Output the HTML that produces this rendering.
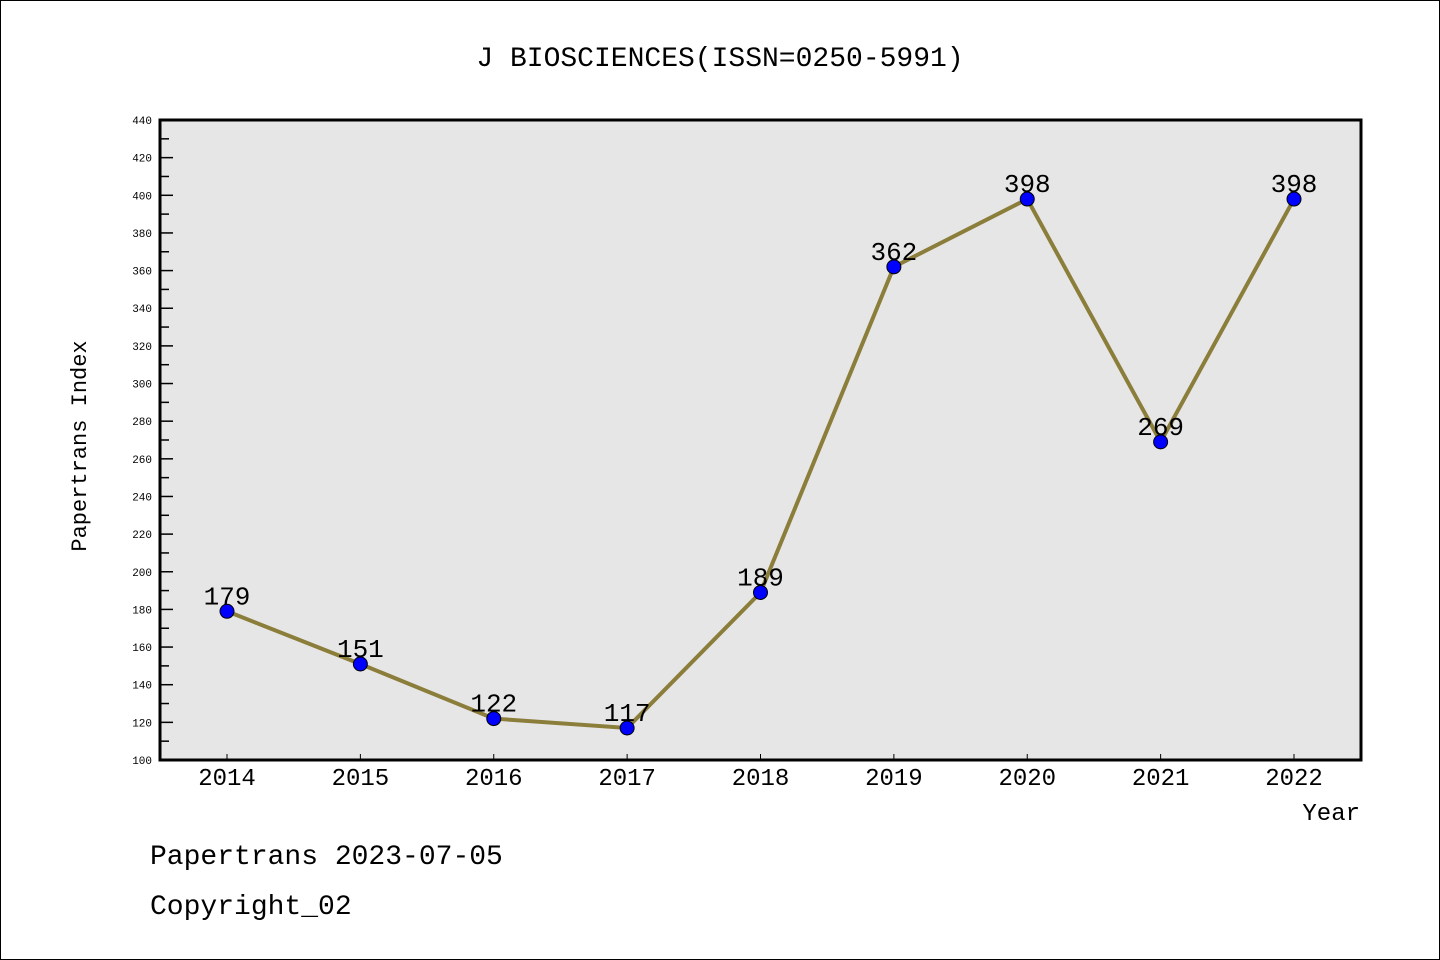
<!DOCTYPE html>
<html><head><meta charset="utf-8"><style>
body{margin:0;background:#fff}
svg{display:block;font-family:"WenQuanYi Zen Hei","Liberation Mono",monospace}
</style></head><body>
<svg width="1440" height="960" viewBox="0 0 1440 960">
<rect x="0.5" y="0.5" width="1439" height="959" fill="#fff" stroke="#000"/>
<text x="720" y="66" font-size="28" text-anchor="middle">J BIOSCIENCES(ISSN=0250-5991)</text>
<rect x="160" y="120" width="1201" height="640" fill="#e6e6e6"/>
<g id="yt"></g>
<g id="xt"></g>
<g id="series"></g>
<rect x="160" y="120" width="1201" height="640" fill="none" stroke="#000" stroke-width="3"/>
<text x="86" y="446" font-size="22" text-anchor="middle" transform="rotate(-90 86 446)">Papertrans Index</text>
<text x="1360" y="820" font-size="24" text-anchor="end">Year</text>
<text x="150" y="864" font-size="28">Papertrans 2023-07-05</text>
<text x="150" y="914" font-size="28">Copyright_02</text>
</svg>
<script>
const years=[2014,2015,2016,2017,2018,2019,2020,2021,2022];
const values=[179,151,122,117,189,362,398,269,398];
const yTicks=[100,120,140,160,180,200,220,240,260,280,300,320,340,360,380,400,420,440];
const NS="http://www.w3.org/2000/svg";
const yMin=100,yMax=440,py0=760,py1=120;
const x=i=>227+i*(1294-227)/(years.length-1);
const y=v=>py0-(v-yMin)/(yMax-yMin)*(py0-py1);
function mk(t,a,p){const e=document.createElementNS(NS,t);for(const k in a)e.setAttribute(k,a[k]);p.appendChild(e);return e;}
const yt=document.getElementById('yt'),xt=document.getElementById('xt'),s=document.getElementById('series');
yTicks.forEach((v,i)=>{
  const l=mk('line',{x1:160,x2:173,y1:y(v),y2:y(v),stroke:'#000','stroke-width':1.5},yt);
  
  
  if(i<yTicks.length-1){const m=mk('line',{x1:160,x2:169,y1:y(v+10),y2:y(v+10),stroke:'#000','stroke-width':1.5},yt);
  
  }
  const t=mk('text',{x:152,y:y(v)+4,'font-size':11,'text-anchor':'end'},yt);t.textContent=v;
  
  
});
years.forEach((yr,i)=>{
  const l=mk('line',{x1:x(i),x2:x(i),y1:760,y2:754,stroke:'#000','stroke-width':1},xt);
  
  
  const t=mk('text',{x:x(i),y:785,'font-size':24,'text-anchor':'middle'},xt);t.textContent=yr;
  
  
});
const pl=mk('polyline',{points:values.map((v,i)=>x(i)+','+y(v)).join(' '),fill:'none',stroke:'#8b7d3a','stroke-width':4},s);


values.forEach((v,i)=>{
  const c=mk('circle',{cx:x(i),cy:y(v),r:7,fill:'#0000ff',stroke:'#000','stroke-width':1},s);
  
  
  const t=mk('text',{x:x(i),y:y(v)-7,'font-size':26,'text-anchor':'middle'},s);t.textContent=v;
  
  
});
</script>
</body></html>
